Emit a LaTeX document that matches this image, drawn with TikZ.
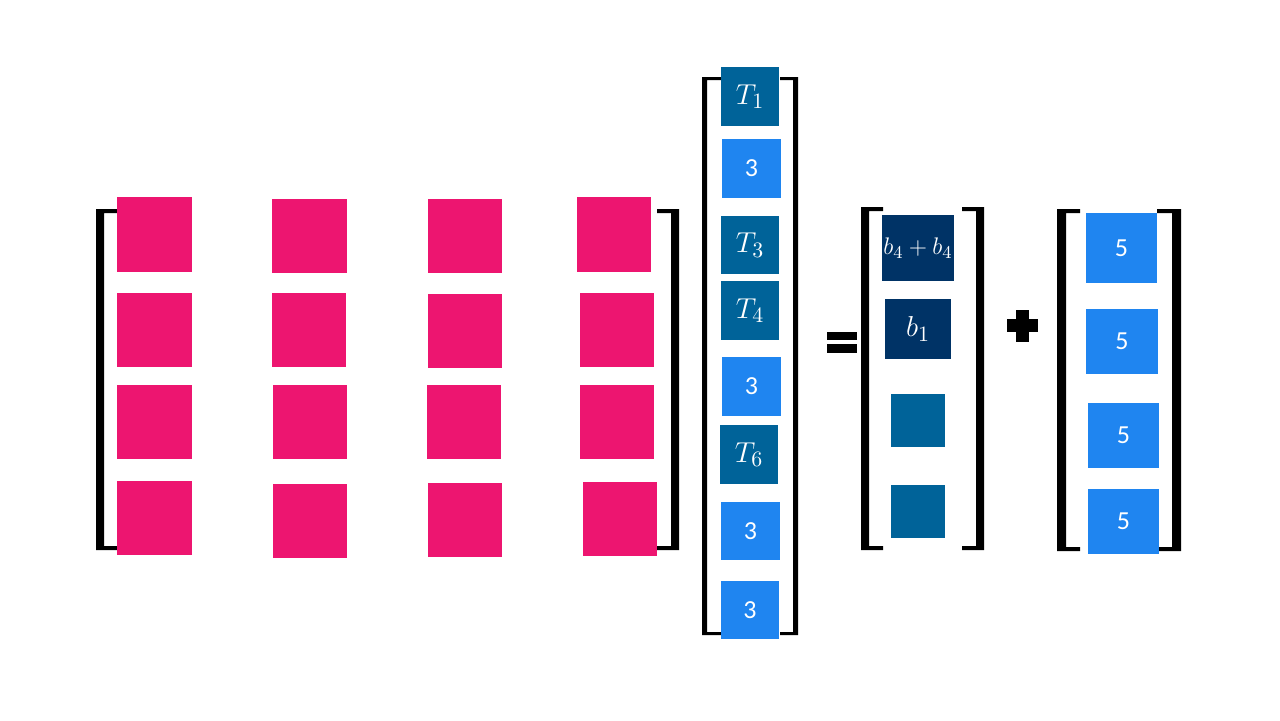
\documentclass[tikz,border=0pt]{standalone}
\usepackage{fontspec}
\setmainfont{Carlito}
\definecolor{pinkc}{RGB}{237,21,112}
\definecolor{tealc}{RGB}{0,99,153}
\definecolor{bluec}{RGB}{31,133,240}
\definecolor{navyc}{RGB}{0,51,102}
\tikzset{
  box/.style={inner sep=0pt, text=white, font=\fontsize{13}{15}\selectfont},
  pinkbox/.style={box, fill=pinkc},
  tealbox/.style={box, fill=tealc},
  bluebox/.style={box, fill=bluec},
  navybox/.style={box, fill=navyc},
  mathtxt/.style={font=\fontsize{15}{17}\selectfont},
  mathsmall/.style={font=\fontsize{12.5}{14}\selectfont},
}
\newcommand\bx[7]{\node[#6, minimum width={(#4-#2)*0.5pt}, minimum height={(#5-#3)*0.5pt}] (#1) at ({(#2+#4)/2},{(#3+#5)/2}) {#7};}
% left bracket: x0 stem-left, w stem width, xa arm end, yt top, yb bottom, t arm thickness
\newcommand\lbrk[6]{\fill (#1,#4) -- (#3,#4) -- (#3,#4+#6) -- (#1+#2,#4+#6) -- (#1+#2,#5-#6) -- (#3,#5-#6) -- (#3,#5) -- (#1,#5) -- cycle;}
% right bracket: x1 stem-right, w, xa arm start
\newcommand\rbrk[6]{\fill (#1,#4) -- (#3,#4) -- (#3,#4+#6) -- (#1-#2,#4+#6) -- (#1-#2,#5-#6) -- (#3,#5-#6) -- (#3,#5) -- (#1,#5) -- cycle;}
\begin{document}
\begin{tikzpicture}[x=0.5pt,y=-0.5pt]
\useasboundingbox (0,0) rectangle (1280,720);
% brackets
\lbrk{96}{8}{118}{209}{550}{4}
\rbrk{679}{8}{657}{209}{550}{4}
\lbrk{702}{5}{721}{77}{635}{3}
\rbrk{798}{5}{780}{77}{635}{3}
\lbrk{861}{8}{883}{207}{550}{4}
\rbrk{984}{8}{962}{207}{550}{4}
\lbrk{1057}{9}{1080}{209}{551}{4}
\rbrk{1181}{9}{1157}{209}{551}{4}
% pink matrix
\bx{a11}{117}{197}{192}{272}{pinkbox}{}
\bx{a12}{272}{199}{347}{273}{pinkbox}{}
\bx{a13}{428}{199}{502}{273}{pinkbox}{}
\bx{a14}{577}{197}{651}{272}{pinkbox}{}
\bx{a21}{117}{293}{192}{367}{pinkbox}{}
\bx{a22}{272}{293}{346}{367}{pinkbox}{}
\bx{a23}{428}{294}{502}{368}{pinkbox}{}
\bx{a24}{580}{293}{654}{367}{pinkbox}{}
\bx{a31}{117}{385}{192}{459}{pinkbox}{}
\bx{a32}{273}{385}{347}{459}{pinkbox}{}
\bx{a33}{427}{385}{501}{459}{pinkbox}{}
\bx{a34}{580}{385}{654}{459}{pinkbox}{}
\bx{a41}{117}{481}{192}{555}{pinkbox}{}
\bx{a42}{273}{484}{347}{558}{pinkbox}{}
\bx{a43}{428}{483}{502}{557}{pinkbox}{}
\bx{a44}{583}{482}{657}{556}{pinkbox}{}
% middle vector
\bx{v1}{721}{67}{779}{126}{tealbox, mathtxt}{$T_1$}
\bx{v2}{722}{139}{781}{198}{bluebox}{3}
\bx{v3}{721}{216}{779}{274}{tealbox, mathtxt}{$T_3$}
\bx{v4}{721}{281}{779}{340}{tealbox, mathtxt}{$T_4$}
\bx{v5}{722}{357}{781}{416}{bluebox}{3}
\bx{v6}{720}{425}{778}{484}{tealbox, mathtxt}{$T_6$}
\bx{v7}{721}{502}{780}{560}{bluebox}{3}
\bx{v8}{721}{581}{779}{639}{bluebox}{3}
% equals
\fill (827,332) rectangle (857,340);
\fill (827,344) rectangle (857,353);
% result vector
\bx{r1}{882}{215}{954}{281}{navybox, mathsmall}{$b_4+b_4$}
\bx{r2}{885}{299}{951}{359}{navybox, mathtxt}{$b_1$}
\bx{r3}{891}{394}{945}{447}{tealbox}{}
\bx{r4}{891}{485}{945}{538}{tealbox}{}
% plus
\fill (1016,310) rectangle (1029,342);
\fill (1007,319) rectangle (1038,332);
% bias vector
\bx{s1}{1086}{213}{1157}{283}{bluebox}{5}
\bx{s2}{1086}{309}{1158}{374}{bluebox}{5}
\bx{s3}{1088}{403}{1159}{468}{bluebox}{5}
\bx{s4}{1088}{489}{1159}{554}{bluebox}{5}
\end{tikzpicture}
\end{document}
